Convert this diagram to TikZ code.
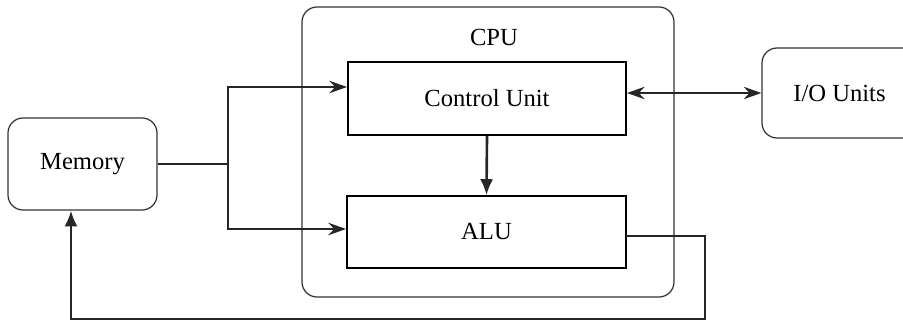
\documentclass[tikz,border=0pt]{standalone}
\usepackage{fontspec}
\setmainfont{Liberation Serif}
\usetikzlibrary{arrows.meta}

\def\busX{4.56}
\def\fbY{0.06}

\tikzset{
  unit/.style={draw=black!80, line width=0.7pt, rounded corners=0.3cm},
  block/.style={draw=black, line width=1.1pt},
  wire/.style={draw=black!85, line width=1.5pt},
  hollow/.style={-{Stealth[length=10pt,width=7pt,fill=black!30]}},
  solid/.style={-{Latex[length=9pt,width=7.5pt]}},
}

\begin{document}
\begin{tikzpicture}[font=\fontsize{14}{16}\selectfont]
  \useasboundingbox (0,0) rectangle (18.06,6.44);

  %%   (name)  (x, y)     {text}
  \node[unit, minimum width=2.98cm, minimum height=1.84cm] (Mem) at (1.65,3.16)  {Memory};
  \node[unit, minimum width=7.44cm, minimum height=5.80cm] (CPU) at (9.76,3.40)  {};
  \node                                                    (CPUt) at (9.88,5.70) {CPU};
  \node[block, minimum width=5.56cm, minimum height=1.46cm] (CU)  at (9.74,4.47) {Control Unit};
  \node[block, minimum width=5.58cm, minimum height=1.44cm] (ALU) at (9.73,1.80) {ALU};
  \node[unit, minimum width=3.10cm, minimum height=1.80cm] (IO)  at (16.79,4.58) {I/O Units};

  \coordinate (bus)  at (\busX,3.16);
  \coordinate (busT) at (\busX,4.70);
  \coordinate (busB) at (\busX,1.86);
  \coordinate (aOut) at (12.52,1.72);
  \coordinate (fbR)  at (14.10,\fbY);
  \coordinate (fbL)  at (1.42,\fbY);

  % memory to the bus
  \draw[wire] (Mem.east |- bus) -- (bus);
  \draw[wire, hollow] (busB) -- (busT) -- (CU.west |- busT);
  \draw[wire, hollow] (bus) -- (busB) -- (ALU.west |- busB);

  % inside the cpu
  \draw[wire, solid] (CU.south) -- (ALU.north);
  \draw[wire, {Stealth[length=10pt,width=7pt,fill=black!30]}-{Stealth[length=10pt,width=7pt,fill=black!30]}]
    (CU.east |- IO.west) -- (IO.west);

  % result back to memory
  \draw[wire, solid] (aOut) -| (fbR) -- (fbL) -- (fbL |- Mem.south);
\end{tikzpicture}
\end{document}
